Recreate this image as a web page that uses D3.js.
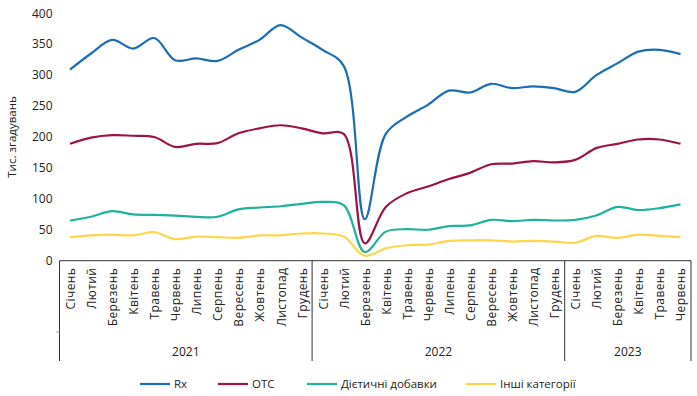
<!DOCTYPE html>
<html><head><meta charset="utf-8">
<script src="https://cdn.jsdelivr.net/npm/d3@7"></script>
<style>body{margin:0;background:#fff}svg{display:block;font-family:"Open Sans","Noto Sans",sans-serif}</style>
</head><body><svg id="c" width="697" height="396"></svg>
<script>
const months = ["Січень","Лютий","Березень","Квітень","Травень","Червень","Липень","Серпень","Вересень","Жовтень","Листопад","Грудень"];
const years = ["2021","2022","2023"];
const monthsPerYear = [12,12,6];
const yTicks = [0,50,100,150,200,250,300,350,400];
const rx = [309,335,357,343,360,324,327,323,341,357,381,361,341,315,67,205,233,252,275,272,286,279,282,279,273,300,319,338,341,334];
const otc = [189,199,203,202,200,184,189,190,206,214,219,214,206,205,28,87,109,120,132,142,156,157,161,159,163,182,189,196,196,189];
const diet = [65,71,80,75,74,73,71,71,83,86,88,92,95,90,14,47,51,50,56,57,66,64,66,65,66,73,87,82,85,91];
const other = [38,41,42,41,46,35,39,38,37,41,41,44,44,39,8,20,25,26,32,33,33,31,32,31,29,40,37,42,40,38];
const seriesNames = ["Rx","OTC","Дієтичні добавки","Інші категорії"];
const colors = ["#1a6db6","#9c1348","#1fb2a0","#fdd64b"];

const cats = [];
years.forEach((y,yi)=>{for(let m=0;m<monthsPerYear[yi];m++) cats.push(y+"-"+m);});
const catLabel = c => months[+c.split("-")[1]];

const svg = d3.select("#c");
const L=59.5, R=691, T=13.3, B=260.7;
const x = d3.scaleBand().domain(cats).range([L,R]);
const y = d3.scaleLinear().domain([0,400]).range([B,T]);

// y labels
svg.append("g").selectAll("text").data(yTicks).join("text")
  .attr("x",52.5).attr("y",d=>y(d)).attr("dy","0.35em").attr("text-anchor","end")
  .attr("font-size",12).attr("fill","#222").text(d=>d);
svg.append("text").attr("transform","translate(16,"+((T+B)/2)+") rotate(-90)")
  .attr("text-anchor","middle").attr("font-size",11.5).attr("fill","#222").text("Тис. згадувань");

// axes frame
const axB = 361;
const g = svg.append("g").attr("stroke","#333").attr("stroke-width",1);
g.append("line").attr("x1",L).attr("x2",R).attr("y1",B).attr("y2",B);
g.append("line").attr("x1",L).attr("x2",L).attr("y1",B).attr("y2",axB);
g.append("line").attr("x1",L-3).attr("x2",L).attr("y1",332).attr("y2",332).attr("stroke","#999");
let acc=0;
const bounds=[];
monthsPerYear.forEach((n,i)=>{bounds.push([acc,acc+n]);acc+=n;});
bounds.forEach((b,i)=>{
  const xe = x(cats[b[1]-1])+x.bandwidth();
  g.append("line").attr("x1",xe).attr("x2",xe).attr("y1",B).attr("y2",axB);
});
// month labels
svg.append("g").selectAll("text").data(cats).join("text")
  .attr("transform",d=>"translate("+(x(d)+x.bandwidth()/2+5)+","+(B+7)+") rotate(-90)")
  .attr("text-anchor","end").attr("font-size",12).attr("letter-spacing",0.4).attr("fill","#222").text(catLabel);
// year labels
svg.append("g").selectAll("text").data(bounds).join("text")
  .attr("x",(b)=>(x(cats[b[0]])+x(cats[b[1]-1])+x.bandwidth())/2).attr("y",356)
  .attr("text-anchor","middle").attr("font-size",12).attr("fill","#222").text((b,i)=>years[i]);

// lines
const data=[rx,otc,diet,other];
const line = d3.line().x((d,i)=>x(cats[i])+x.bandwidth()/2).y(d=>y(d)).curve(d3.curveCatmullRom.alpha(0.5));
[3,2,1,0].forEach(k=>{
  svg.append("path").attr("d",line(data[k])).attr("fill","none").attr("stroke",colors[k]).attr("stroke-width",2.2);
});

// legend
const legX=[140,218,307,466];
seriesNames.forEach((n,i)=>{
  svg.append("line").attr("x1",legX[i]).attr("x2",legX[i]+30).attr("y1",384).attr("y2",384).attr("stroke",colors[i]).attr("stroke-width",2.2);
  svg.append("text").attr("x",legX[i]+34).attr("y",384).attr("dy","0.35em").attr("font-size",11.5).attr("fill","#222").text(n);
});
</script></body></html>
